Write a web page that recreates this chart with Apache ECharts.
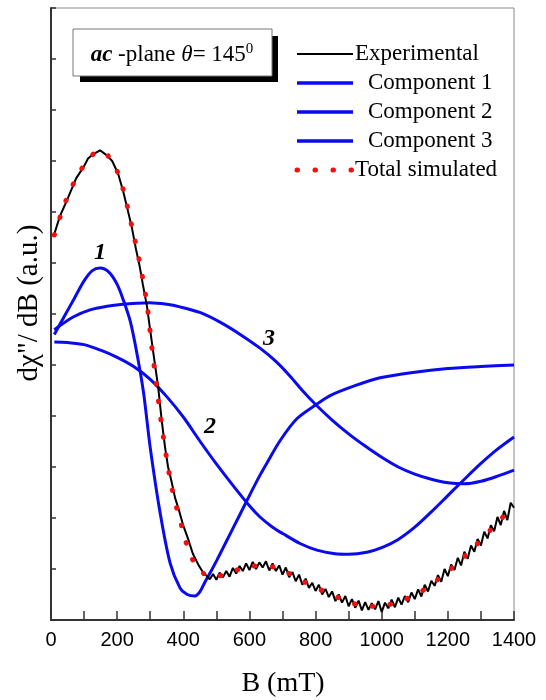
<!DOCTYPE html>
<html lang="en">
<head>
    <meta charset="UTF-8" />
    <title>ESR ac-plane</title>
    <script src="https://cdn.jsdelivr.net/npm/echarts@6/dist/echarts.min.js"></script>
    <style>
        body { margin: 0; background: #fff; }
    </style>
</head>
<body>
    <div id="main" style="width: 546px; height: 700px"></div>
    <script>
        // B (mT) on x, derivative signal (a.u., 12 tick units) on y
        var xTicks = [0, 200, 400, 600, 800, 1000, 1200, 1400];

        var expB = [10, 27, 51, 76, 100, 112, 127, 148, 169, 185, 203, 218, 232, 245, 257, 268, 278, 290, 300, 312, 324, 335, 345, 354, 365, 375, 387, 399, 414, 429, 445, 460, 470,
            480, 490, 500, 510, 520, 530, 540, 550, 560, 570, 580, 590, 600, 610, 620, 630, 640, 650, 660, 670, 680, 690, 700, 710, 720, 730, 740, 750, 760, 770, 780, 790,
            800, 810, 820, 830, 840, 850, 860, 870, 880, 890, 900, 910, 920, 930, 940, 950, 960, 970, 980, 990, 1000, 1010, 1020, 1030, 1040, 1050, 1060, 1070, 1080, 1090,
            1100, 1110, 1120, 1130, 1140, 1150, 1160, 1170, 1180, 1190, 1200, 1210, 1220, 1230, 1240, 1250, 1260, 1270, 1280, 1290, 1300, 1310, 1320, 1330, 1340, 1350,
            1360, 1370, 1380, 1390, 1400];
        var expY = [7.57, 7.92, 8.27, 8.66, 8.9, 9.05, 9.13, 9.21, 9.11, 9.0, 8.75, 8.41, 8.04, 7.68, 7.27, 6.94, 6.57, 6.16, 5.68, 5.12, 4.57, 3.9, 3.38, 3.0, 2.7, 2.4, 2.15, 1.87, 1.6, 1.3, 1.09, 0.93, 0.87,
            0.80, 0.90, 0.79, 0.93, 0.84, 0.96, 0.85, 1.02, 0.91, 1.06, 0.96, 1.11, 0.98, 1.14, 1.00, 1.13, 1.03, 1.15, 0.97, 1.11, 0.96, 1.07, 0.89, 1.03, 0.84, 0.94, 0.76, 0.89, 0.69, 0.81, 0.63, 0.73,
            0.57, 0.69, 0.50, 0.61, 0.45, 0.56, 0.37, 0.50, 0.34, 0.47, 0.27, 0.41, 0.24, 0.38, 0.19, 0.35, 0.20, 0.33, 0.21, 0.37, 0.16, 0.34, 0.23, 0.40, 0.25, 0.44, 0.30, 0.47, 0.35, 0.54,
            0.41, 0.60, 0.46, 0.69, 0.56, 0.77, 0.67, 0.88, 0.75, 1.00, 0.86, 1.09, 0.98, 1.22, 1.07, 1.34, 1.20, 1.46, 1.34, 1.59, 1.46, 1.73, 1.60, 1.86, 1.74, 2.02,
            1.86, 2.14, 1.96, 2.30, 2.20];

        var totB = [10, 30, 50, 75, 100, 125, 148, 170, 200, 220, 245, 270, 290, 305, 320, 335, 350, 365, 380, 396, 411, 435, 460, 481, 541, 599, 653, 711, 765, 823, 880, 934, 992, 1046, 1107, 1161, 1216, 1273, 1328, 1400];
        var totY = [7.55, 7.95, 8.3, 8.65, 8.92, 9.12, 9.2, 9.12, 8.8, 8.4, 7.7, 6.95, 6.2, 5.35, 4.55, 3.8, 3.15, 2.6, 2.2, 1.82, 1.47, 1.1, 0.92, 0.84, 0.92, 1.06, 1.06, 0.94, 0.75, 0.57, 0.41, 0.29, 0.27, 0.35, 0.51, 0.75, 1.04, 1.39, 1.76, 2.25];

        var c1B = [10, 40, 70, 100, 125, 148, 175, 200, 220, 240, 260, 280, 300, 330, 360, 390, 412, 435, 450, 466, 485, 502, 520, 541, 566, 600, 632, 653, 693, 744, 801, 844, 913, 995, 1100, 1200, 1300, 1400];
        var c1Y = [5.6, 5.95, 6.3, 6.65, 6.85, 6.9, 6.82, 6.58, 6.25, 5.85, 5.22, 4.45, 3.38, 2.1, 1.12, 0.63, 0.5, 0.47, 0.55, 0.75, 0.97, 1.18, 1.41, 1.68, 2.0, 2.44, 2.84, 3.08, 3.52, 3.95, 4.22, 4.4, 4.58, 4.75, 4.86, 4.93, 4.97, 5.0];

        var c2B = [10, 50, 100, 150, 200, 250, 300, 350, 400, 450, 500, 550, 600, 632, 670, 702, 753, 804, 859, 900, 955, 1004, 1050, 1100, 1150, 1200, 1250, 1300, 1350, 1400];
        var c2Y = [5.45, 5.44, 5.4, 5.29, 5.15, 4.97, 4.72, 4.38, 3.98, 3.51, 3.06, 2.64, 2.24, 2.02, 1.82, 1.69, 1.5, 1.37, 1.3, 1.29, 1.33, 1.43, 1.58, 1.82, 2.12, 2.44, 2.76, 3.07, 3.35, 3.59];

        var c3B = [10, 67, 118, 170, 218, 260, 299, 350, 390, 450, 511, 572, 632, 680, 723, 760, 801, 850, 900, 950, 1000, 1050, 1100, 1150, 1200, 1250, 1300, 1350, 1400];
        var c3Y = [5.69, 5.94, 6.08, 6.15, 6.19, 6.21, 6.22, 6.19, 6.14, 6.03, 5.84, 5.6, 5.33, 5.07, 4.78, 4.5, 4.22, 3.92, 3.65, 3.41, 3.19, 3.0, 2.86, 2.76, 2.69, 2.67, 2.72, 2.82, 2.94];

        var labelTexts = ['1', '2', '3'];
        var labelB = [148, 481, 659];
        var labelY = [7.2, 3.78, 5.51];

        var legendNames = ['Experimental', 'Component 1', 'Component 2', 'Component 3', 'Total simulated'];

        function pairs(xs, ys) {
            return xs.map(function (x, i) { return [x, ys[i]]; });
        }

        var serif = "'Liberation Serif', 'Times New Roman', serif";
        var sans = "'Liberation Sans', Arial, sans-serif";
        var blue = '#0a0aee';
        var red = '#f01010';

        var chart = echarts.init(document.getElementById('main'));

        var option = {
            animation: false,
            backgroundColor: '#fff',
            grid: {
                left: 51, right: 32, top: 8, bottom: 80,
                show: true, borderColor: '#888', borderWidth: 1
            },
            xAxis: {
                type: 'value', min: 0, max: 1400, interval: 200,
                axisLine: { lineStyle: { color: '#333', width: 2 } },
                axisTick: { inside: true, length: 9, lineStyle: { color: '#333', width: 1.5 } },
                minorTick: { show: true, splitNumber: 2, length: 9, lineStyle: { color: '#333', width: 1.5 } },
                splitLine: { show: false },
                axisLabel: {
                    fontFamily: sans, fontSize: 20, color: '#000', margin: 10,
                    formatter: function (v) { return String(v); }
                }
            },
            yAxis: {
                type: 'value', min: 0, max: 12, interval: 1,
                axisLine: { lineStyle: { color: '#333', width: 2 } },
                axisTick: { inside: true, length: 5, lineStyle: { color: '#333', width: 1.5 } },
                axisLabel: { show: false },
                splitLine: { show: false }
            },
            series: [
                {
                    name: legendNames[1], type: 'line', symbol: 'none', smooth: 0.3,
                    lineStyle: { color: blue, width: 3 },
                    data: pairs(c1B, c1Y)
                },
                {
                    name: legendNames[2], type: 'line', symbol: 'none', smooth: 0.3,
                    lineStyle: { color: blue, width: 3 },
                    data: pairs(c2B, c2Y)
                },
                {
                    name: legendNames[3], type: 'line', symbol: 'none', smooth: 0.3,
                    lineStyle: { color: blue, width: 3 },
                    data: pairs(c3B, c3Y)
                },
                {
                    name: legendNames[0], type: 'line', symbol: 'none',
                    lineStyle: { color: '#000', width: 2 },
                    data: pairs(expB, expY)
                },
                {
                    name: legendNames[4], type: 'line', symbol: 'none', smooth: 0.3,
                    lineStyle: { color: red, width: 5, type: [0.5, 17.5], cap: 'round' },
                    data: pairs(totB, totY)
                }
            ]
        };
        chart.setOption(option);

        // annotation box, axis names, legend and curve numbers
        var graphics = [
            { type: 'rect', shape: { x: 80, y: 36, width: 198, height: 46 }, style: { fill: '#000' }, z: 100 },
            { type: 'rect', shape: { x: 73, y: 29, width: 199, height: 47 }, style: { fill: '#fff', stroke: '#777', lineWidth: 1 }, z: 101 },
            {
                type: 'text', x: 172, y: 55, z: 102,
                style: {
                    text: '{b|ac} -plane {i|θ}= 145{s|0}',
                    fontFamily: serif, fontSize: 23, fill: '#000',
                    align: 'center', verticalAlign: 'middle',
                    rich: {
                        b: { fontFamily: serif, fontSize: 23, fontWeight: 'bold', fontStyle: 'italic' },
                        i: { fontFamily: serif, fontSize: 23, fontStyle: 'italic' },
                        s: { fontFamily: serif, fontSize: 15, verticalAlign: 'top', padding: [0, 0, 12, 0] }
                    }
                }
            },
            {
                type: 'text', x: 29, y: 303, rotation: Math.PI / 2, z: 102,
                style: { text: 'dχ"/ dB (a.u.)', fontFamily: serif, fontSize: 29, fill: '#000', align: 'center', verticalAlign: 'middle' }
            },
            {
                type: 'text', x: 283, y: 684, z: 102,
                style: { text: 'B (mT)', fontFamily: serif, fontSize: 28, fill: '#000', align: 'center', verticalAlign: 'middle' }
            }
        ];

        var legendStroke = ['#000', blue, blue, blue, red];
        var legendWidth = [2, 3.5, 3.5, 3.5, 5];
        var legendTextX = [355, 368, 368, 368, 355];
        for (var k = 0; k < legendNames.length; k++) {
            var ly = 54 + k * 29;
            var ls = { stroke: legendStroke[k], lineWidth: legendWidth[k] };
            if (k === 4) { ls.lineDash = [0.5, 17.5]; ls.lineCap = 'round'; }
            graphics.push({ type: 'line', shape: { x1: 297, y1: ly, x2: 353, y2: ly }, style: ls, z: 102 });
            graphics.push({
                type: 'text', x: legendTextX[k], y: ly, z: 102,
                style: { text: legendNames[k], fontFamily: serif, fontSize: 23, fill: '#000', align: 'left', verticalAlign: 'middle' }
            });
        }

        for (var i = 0; i < labelTexts.length; i++) {
            var p = chart.convertToPixel({ gridIndex: 0 }, [labelB[i], labelY[i]]);
            graphics.push({
                type: 'text', x: p[0], y: p[1], z: 102,
                style: {
                    text: labelTexts[i], fontFamily: serif, fontSize: 24, fontWeight: 'bold', fontStyle: 'italic',
                    fill: '#000', align: 'center', verticalAlign: 'middle'
                }
            });
        }
        chart.setOption({ graphic: graphics });
    </script>
</body>
</html>
